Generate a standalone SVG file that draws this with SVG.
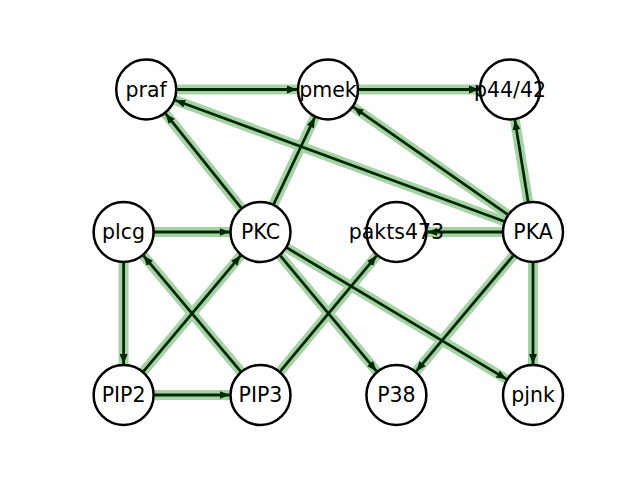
<svg xmlns="http://www.w3.org/2000/svg" width="640" height="480" viewBox="0 0 640 480">
<style>
.halo{stroke:#a6d3a6;stroke-width:10;fill:none}
.edge{stroke:#002800;stroke-width:2.8;fill:none;marker-end:url(#ah)}
.node circle{fill:#fff;stroke:#000;stroke-width:2.5}
.node text{font-family:"DejaVu Sans",sans-serif;font-size:20.5px;text-anchor:middle;dominant-baseline:central;fill:#000}
</style>
<defs>
<marker id="ah" markerUnits="userSpaceOnUse" viewBox="0 0 10 8" markerWidth="10" markerHeight="8.5" refX="10" refY="4" orient="auto">
<path d="M0,0 L10,4 L0,8 z" fill="#002800"/>
</marker>
</defs>
<rect width="640" height="480" fill="#fff"/>
<g id="halos">
<line class="halo" x1="146.2" y1="89.5" x2="328" y2="89.5"/>
<line class="halo" x1="328" y1="89.5" x2="510" y2="89.5"/>
<line class="halo" x1="260.5" y1="232" x2="146.2" y2="89.5"/>
<line class="halo" x1="260.5" y1="232" x2="328" y2="89.5"/>
<line class="halo" x1="533" y1="232" x2="146.2" y2="89.5"/>
<line class="halo" x1="533" y1="232" x2="328" y2="89.5"/>
<line class="halo" x1="533" y1="232" x2="510" y2="89.5"/>
<line class="halo" x1="533" y1="232" x2="396.4" y2="232"/>
<line class="halo" x1="533" y1="232" x2="396.4" y2="395"/>
<line class="halo" x1="533" y1="232" x2="533" y2="395"/>
<line class="halo" x1="123.6" y1="232" x2="260.5" y2="232"/>
<line class="halo" x1="123.6" y1="232" x2="123.6" y2="395"/>
<line class="halo" x1="123.6" y1="395" x2="260.5" y2="395"/>
<line class="halo" x1="123.6" y1="395" x2="260.5" y2="232"/>
<line class="halo" x1="260.5" y1="395" x2="123.6" y2="232"/>
<line class="halo" x1="260.5" y1="395" x2="396.4" y2="232"/>
<line class="halo" x1="260.5" y1="232" x2="396.4" y2="395"/>
<line class="halo" x1="260.5" y1="232" x2="533" y2="395"/>
</g>
<g id="connectors">
<line class="edge" x1="177.2" y1="89.5" x2="297" y2="89.5"/>
<line class="edge" x1="359" y1="89.5" x2="479" y2="89.5"/>
<line class="edge" x1="241.1" y1="207.8" x2="165.6" y2="113.7"/>
<line class="edge" x1="273.8" y1="204" x2="314.7" y2="117.5"/>
<line class="edge" x1="503.9" y1="221.3" x2="175.3" y2="100.2"/>
<line class="edge" x1="507.5" y1="214.3" x2="353.5" y2="107.2"/>
<line class="edge" x1="528.1" y1="201.4" x2="514.9" y2="120.1"/>
<line class="edge" x1="502" y1="232" x2="427.4" y2="232"/>
<line class="edge" x1="513.1" y1="255.8" x2="416.3" y2="371.2"/>
<line class="edge" x1="533" y1="263" x2="533" y2="364"/>
<line class="edge" x1="154.6" y1="232" x2="229.5" y2="232"/>
<line class="edge" x1="123.6" y1="263" x2="123.6" y2="364"/>
<line class="edge" x1="154.6" y1="395" x2="229.5" y2="395"/>
<line class="edge" x1="143.5" y1="371.3" x2="240.6" y2="255.7"/>
<line class="edge" x1="240.6" y1="371.3" x2="143.5" y2="255.7"/>
<line class="edge" x1="280.4" y1="371.2" x2="376.5" y2="255.8"/>
<line class="edge" x1="280.4" y1="255.8" x2="376.5" y2="371.2"/>
<line class="edge" x1="287.1" y1="247.9" x2="506.4" y2="379.1"/>
</g>
<g id="praf" class="node"><circle cx="146.2" cy="89.5" r="30"/><text x="146.2" y="89.5">praf</text></g>
<g id="pmek" class="node"><circle cx="328" cy="89.5" r="30"/><text x="328" y="89.5">pmek</text></g>
<g id="p44_42" class="node"><circle cx="510" cy="89.5" r="30"/><text x="510" y="89.5">p44/42</text></g>
<g id="plcg" class="node"><circle cx="123.6" cy="232" r="30"/><text x="123.6" y="232">plcg</text></g>
<g id="PKC" class="node"><circle cx="260.5" cy="232" r="30"/><text x="260.5" y="232">PKC</text></g>
<g id="pakts473" class="node"><circle cx="396.4" cy="232" r="30"/><text x="396.4" y="232">pakts473</text></g>
<g id="PKA" class="node"><circle cx="533" cy="232" r="30"/><text x="533" y="232">PKA</text></g>
<g id="PIP2" class="node"><circle cx="123.6" cy="395" r="30"/><text x="123.6" y="395">PIP2</text></g>
<g id="PIP3" class="node"><circle cx="260.5" cy="395" r="30"/><text x="260.5" y="395">PIP3</text></g>
<g id="P38" class="node"><circle cx="396.4" cy="395" r="30"/><text x="396.4" y="395">P38</text></g>
<g id="pjnk" class="node"><circle cx="533" cy="395" r="30"/><text x="533" y="395">pjnk</text></g>
</svg>
